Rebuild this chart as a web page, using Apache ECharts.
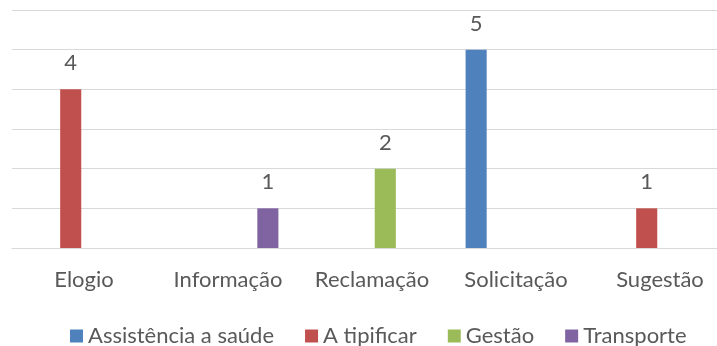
<!DOCTYPE html>
<html>
<head>
<meta charset="utf-8">
<script src="https://cdn.jsdelivr.net/npm/echarts@6/dist/echarts.min.js"></script>
<style>
  html, body { margin: 0; padding: 0; background: #fff; }
  #chart { width: 717px; height: 346px; }
</style>
</head>
<body>
<div id="chart"></div>
<script>
// Manifestações por tipo e assunto
const categories = ['Elogio', 'Informação', 'Reclamação', 'Solicitação', 'Sugestão'];
const seriesNames = ['Assistência a saúde', 'A tipificar', 'Gestão', 'Transporte'];
const assistenciaSaude = [0, 0, 0, 5, 0];
const aTipificar = [4, 0, 0, 0, 1];
const gestao = [0, 0, 2, 0, 0];
const transporte = [0, 1, 0, 0, 0];
const colors = ['#4F81BD', '#C0504D', '#9BBB59', '#8064A2'];

const seriesValues = [assistenciaSaude, aTipificar, gestao, transporte];
const FONT = 'Lato';
const TEXT = '#595959';

const chart = echarts.init(document.getElementById('chart'), null, { renderer: 'canvas' });

chart.setOption({
  animation: false,
  color: colors,
  // plot area runs past the right edge of the canvas
  grid: { left: 12, top: 10, width: 720, height: 238, containLabel: false, outerBoundsMode: 'none' },
  xAxis: {
    type: 'category',
    data: categories,
    axisLine: { lineStyle: { color: '#D9D9D9', width: 1 } },
    axisTick: { show: false },
    axisLabel: { interval: 0, color: TEXT, fontFamily: FONT, fontSize: 22, margin: 21 },
    splitLine: { show: false }
  },
  yAxis: {
    type: 'value',
    min: 0,
    max: 6,
    interval: 1,
    axisLine: { show: false },
    axisTick: { show: false },
    axisLabel: { show: false },
    splitLine: { lineStyle: { color: '#D9D9D9', width: 1 } }
  },
  legend: {
    left: 65,
    top: 320,
    itemWidth: 13,
    itemHeight: 13,
    itemGap: 31,
    icon: 'rect',
    textStyle: { color: TEXT, fontFamily: FONT, fontSize: 22 },
    data: seriesNames
  },
  series: seriesNames.map((name, i) => ({
    name,
    type: 'bar',
    data: seriesValues[i],
    barGap: '26%',
    barCategoryGap: '30%',
    label: {
      show: true,
      position: 'top',
      distance: 15,
      color: TEXT,
      fontFamily: FONT,
      fontSize: 22,
      formatter: p => (p.value ? String(p.value) : '')
    }
  }))
});
</script>
</body>
</html>
